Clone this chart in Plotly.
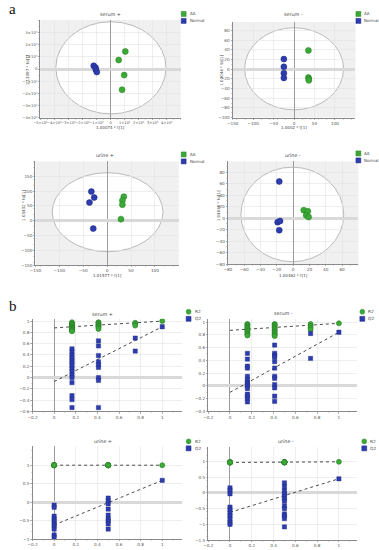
import plotly.graph_objects as go

W, H = 379, 550
def px(x): return x / W
def py(y): return 1 - y / H

GREEN = "#3aa935"
GREEN_EDGE = "#2a7f27"
BLUE = "#2d3cae"
BLUE_EDGE = "#1f2a80"

# ---------------- panel a : OPLS-DA score plots ----------------
a_titles = ["serum +", "serum -", "urine +", "urine -"]
a_xlabels = ["1.00074 * t[1]", "1.0002 * t[1]", "1.01577 * t[1]", "1.00462 * t[1]"]
a_ylabels = ["1.13397 * to[1]", "1.03044 * to[1]", "1.03432 * to[1]", "1.04046 * to[1]"]
groups = ["AA", "Normal"]

a1_aa_x = [1.05, 0.58, 0.97, 0.82]
a1_aa_y = [1.45, 0.74, -0.50, -1.70]
a1_nor_x = [-1.20, -1.07, -1.05, -0.98]
a1_nor_y = [0.27, 0.12, -0.05, -0.25]

a2_aa_x = [35, 35, 36, 36]
a2_aa_y = [39, -17, -20, -23]
a2_nor_x = [-25, -25, -25, -25]
a2_nor_y = [21, 5, -8, -18]

a3_aa_x = [35, 32, 32, 29]
a3_aa_y = [81, 68, 54, 5]
a3_nor_x = [-33, -27, -37, -29]
a3_nor_y = [98, 78, 61, -27]

a4_aa_x = [13, 18, 16, 19]
a4_aa_y = [14, 12, 5, 2]
a4_nor_x = [-17, -19, -16, -17]
a4_nor_y = [64, -7, -5, -21]

# Hotelling T2 ellipse bounds (x0, x1, y0, y1)
a1_t2 = [-3.9, 3.95, -3.7, 3.9]
a2_t2 = [-121, 121, -84, 86]
a3_t2 = [-115, 117, -105, 162]
a4_t2 = [-64, 62, -76, 89]

a1_xticks = [-5, -4, -3, -2, -1, 0, 1, 2, 3, 4]
a1_xticktext = ["−5×10⁶", "−4×10⁶", "−3×10⁶", "−2×10⁶", "−1×10⁶", "0",
                "1×10⁶", "2×10⁶", "3×10⁶", "4×10⁶"]
a1_yticks = [-4, -3, -2, -1, 0, 1, 2, 3]
a1_yticktext = ["−4×10⁶", "−3×10⁶", "−2×10⁶", "−1×10⁶", "0",
                "1×10⁶", "2×10⁶", "3×10⁶"]
a2_xticks = [-150, -100, -50, 0, 50, 100]
a2_yticks = [-100, -80, -60, -40, -20, 0, 20, 40, 60, 80]
a3_xticks = [-150, -100, -50, 0, 50, 100]
a3_yticks = [-150, -100, -50, 0, 50, 100, 150]
a4_xticks = [-80, -60, -40, -20, 0, 20, 40, 60]
a4_yticks = [-80, -60, -40, -20, 0, 20, 40, 60, 80]

# ---------------- panel b : permutation tests ----------------
b_titles = ["serum +", "serum -", "urine +", "urine -"]
b_names = ["R2", "Q2"]

b1_corr = [0.165, 0.41, 0.75]
b1_r2_cols = [[0.98, 0.96, 0.95, 0.94, 0.93, 0.91, 0.90, 0.89, 0.88, 0.87, 0.86, 0.85, 0.84, 0.83, 0.82],
              [0.98, 0.97, 0.95, 0.94, 0.92, 0.91, 0.90, 0.88, 0.86],
              [0.97, 0.95, 0.92]]
b1_q2_cols = [[0.51, 0.46, 0.40, 0.35, 0.30, 0.26, 0.21, 0.16, 0.11, 0.05, 0.0, -0.09, -0.32, -0.39, -0.53],
              [0.65, 0.56, 0.39, 0.28, 0.23, 0.18, 0.0, -0.05, -0.53],
              [0.70, 0.47]]
b1_orig = [1.0, 0.90]
b1_intercept = [0.88, -0.07]

b2_corr = [0.16, 0.41, 0.74]
b2_r2_cols = [[0.97, 0.96, 0.95, 0.93, 0.91, 0.90, 0.89, 0.87, 0.86, 0.84, 0.82, 0.80, 0.79],
              [0.97, 0.96, 0.95, 0.93, 0.91, 0.89, 0.87, 0.85, 0.83, 0.81, 0.79, 0.78],
              [0.97, 0.94, 0.91, 0.88]]
b2_q2_cols = [[0.51, 0.42, 0.31, 0.28, 0.15, 0.10, 0.06, 0.03, 0.0, -0.04, -0.13, -0.16, -0.20, -0.25],
              [0.64, 0.51, 0.48, 0.45, 0.38, 0.28, 0.15, 0.12, 0.02, -0.03, -0.16, -0.24],
              [0.82, 0.43]]
b2_orig = [0.98, 0.84]
b2_intercept = [0.87, -0.10]

b3_corr = [0.0, 0.5]
b3_r2_cols = [[1.0, 1.0, 1.0, 0.99, 1.0, 1.0, 1.0, 1.0, 1.0, 1.0],
              [1.0, 1.0, 1.0, 1.0, 0.99, 1.0, 1.0, 1.0, 1.0]]
b3_q2_cols = [[-0.08, -0.14, -0.38, -0.46, -0.51, -0.59, -0.65, -0.73, -0.89, -0.95],
              [0.11, 0.03, -0.05, -0.19, -0.35, -0.46, -0.51, -0.59, -0.73]]
b3_orig = [1.0, 0.59]
b3_intercept = [1.0, -0.62]

b4_corr = [0.0, 0.5]
b4_r2_cols = [[0.97, 0.98, 0.97, 0.96, 0.98, 0.97, 0.97, 0.98, 0.97, 0.97],
              [0.98, 0.98, 0.97, 0.98, 0.98, 0.97, 0.98, 0.98, 0.97, 0.98, 0.98, 0.97, 0.98]]
b4_q2_cols = [[0.16, 0.07, -0.03, -0.45, -0.54, -0.64, -0.73, -0.83, -0.94, -1.0],
              [0.32, 0.19, 0.06, -0.03, -0.10, -0.19, -0.26, -0.41, -0.50, -0.67, -0.73, -0.82, -1.08]]
b4_orig = [0.99, 0.45]
b4_intercept = [0.97, -0.62]

b1_xticks = [-0.2, 0, 0.2, 0.4, 0.6, 0.8, 1]
b1_yticks = [-0.6, -0.4, -0.2, 0, 0.2, 0.4, 0.6, 0.8, 1]
b2_yticks = [-0.4, -0.2, 0, 0.2, 0.4, 0.6, 0.8, 1]
b3_yticks = [-1, -0.5, 0, 0.5, 1]
b4_yticks = [-1.5, -1, -0.5, 0, 0.5, 1]

# ---------------- layout geometry (pixels) ----------------
# (left, right, top, bottom)
boxes = {
    1: (34, 177, 20, 118),
    2: (230, 355, 22, 118),
    3: (29, 175, 162, 266),
    4: (225, 358, 162, 265),
    5: (26, 178, 320, 413),
    6: (205, 357, 320, 413),
    7: (26, 178, 448, 541),
    8: (205, 357, 449, 542),
}
ranges = {
    1: ([-5.0, 5.0], [-4.0, 4.05]),
    2: ([-150, 150], [-100, 98]),
    3: ([-150, 150], [-150, 200]),
    4: ([-80, 80], [-80, 99]),
    5: ([-0.2, 1.18], [-0.6, 1.04]),
    6: ([-0.2, 1.17], [-0.4, 1.05]),
    7: ([-0.2, 1.18], [-1.0, 1.51]),
    8: ([-0.2, 1.17], [-1.5, 1.45]),
}

fig = go.Figure()
TICKFONT = dict(family="DejaVu Sans", size=4.2, color="#555")


def axname(i, kind):
    return kind if i == 1 else f"{kind}{i}"


def add_axes(i, xticks, yticks, xtext=None, ytext=None):
    l, r, t, b = boxes[i]
    xr, yr = ranges[i]
    common = dict(showline=True, linecolor="#8a8a8a", linewidth=1,
                  ticks="outside", ticklen=1.2, tickwidth=0.6, tickcolor="#8a8a8a",
                  tickfont=TICKFONT, tickangle=0, showgrid=True, gridcolor="#e3e3e3", gridwidth=0.6,
                  zeroline=True, fixedrange=True,
                  minor=dict(ticks="outside", ticklen=1.0, tickwidth=0.4,
                             tickcolor="#9a9a9a", nticks=5, showgrid=False))
    xa = dict(common, domain=[px(l), px(r)], range=xr, anchor=axname(i, "y"),
              tickmode="array", tickvals=xticks,
              zerolinecolor="#9c9c9c", zerolinewidth=1)
    if xtext:
        xa["ticktext"] = xtext
    ya = dict(common, domain=[py(b), py(t)], range=yr, anchor=axname(i, "x"),
              tickmode="array", tickvals=yticks,
              zerolinecolor="#d9d9d9", zerolinewidth=3)
    if ytext:
        ya["ticktext"] = ytext
    fig.layout[("xaxis" if i == 1 else f"xaxis{i}")] = xa
    fig.layout[("yaxis" if i == 1 else f"yaxis{i}")] = ya


def xy(i):
    return dict(xaxis=axname(i, "x"), yaxis=axname(i, "y"))


# ---- score plots
a_data = [
    (a1_aa_x, a1_aa_y, a1_nor_x, a1_nor_y, a1_t2, a1_xticks, a1_yticks, a1_xticktext, a1_yticktext),
    (a2_aa_x, a2_aa_y, a2_nor_x, a2_nor_y, a2_t2, a2_xticks, a2_yticks, None, None),
    (a3_aa_x, a3_aa_y, a3_nor_x, a3_nor_y, a3_t2, a3_xticks, a3_yticks, None, None),
    (a4_aa_x, a4_aa_y, a4_nor_x, a4_nor_y, a4_t2, a4_xticks, a4_yticks, None, None),
]
for k, (gx, gy, bx, by, t2, xt, yt, xtt, ytt) in enumerate(a_data):
    i = k + 1
    add_axes(i, xt, yt, xtt, ytt)
    if i == 1:
        fig.layout.xaxis.tickfont.size = 3.6
        fig.layout.yaxis.tickfont.size = 3.8
    xs, ys = axname(i, "x"), axname(i, "y")
    fig.add_shape(type="rect", xref=f"{xs} domain", yref=f"{ys} domain",
                  x0=0, x1=1, y0=0, y1=1, fillcolor="#f0f0f0", line_width=0, layer="below")
    fig.add_shape(type="circle", xref=xs, yref=ys, x0=t2[0], x1=t2[1], y0=t2[2], y1=t2[3],
                  fillcolor="white", line=dict(color="#b9b9b9", width=1), layer="below")
    fig.add_trace(go.Scatter(x=gx, y=gy, mode="markers", name=groups[0],
                             marker=dict(size=6, color=GREEN, line=dict(color=GREEN_EDGE, width=0.5)),
                             **xy(i)))
    fig.add_trace(go.Scatter(x=bx, y=by, mode="markers", name=groups[1],
                             marker=dict(size=6, color=BLUE, line=dict(color=BLUE_EDGE, width=0.5)),
                             **xy(i)))

# ---- permutation plots
b_data = [
    (b1_corr, b1_r2_cols, b1_q2_cols, b1_orig, b1_intercept, b1_yticks),
    (b2_corr, b2_r2_cols, b2_q2_cols, b2_orig, b2_intercept, b2_yticks),
    (b3_corr, b3_r2_cols, b3_q2_cols, b3_orig, b3_intercept, b3_yticks),
    (b4_corr, b4_r2_cols, b4_q2_cols, b4_orig, b4_intercept, b4_yticks),
]
for k, (corr, r2c, q2c, orig, icpt, yt) in enumerate(b_data):
    i = k + 5
    add_axes(i, b1_xticks, yt)
    r2x, r2y, q2x, q2y = [], [], [], []
    for c, vals in zip(corr, r2c):
        r2x += [c] * len(vals)
        r2y += vals
    for c, vals in zip(corr, q2c):
        q2x += [c] * len(vals)
        q2y += vals
    r2x.append(1.0); r2y.append(orig[0])
    q2x.append(1.0); q2y.append(orig[1])
    # regression lines: from intercept at x=0 to original model at x=1
    fig.add_trace(go.Scatter(x=[0, 1], y=[icpt[0], orig[0]], mode="lines",
                             line=dict(color="#4a4a4a", width=1, dash="dot"), **xy(i)))
    fig.add_trace(go.Scatter(x=[0, 1], y=[icpt[1], orig[1]], mode="lines",
                             line=dict(color="#4a4a4a", width=1, dash="dot"), **xy(i)))
    fig.add_trace(go.Scatter(x=r2x, y=r2y, mode="markers", name=b_names[0],
                             marker=dict(symbol="circle", size=5, color=GREEN,
                                         line=dict(color=GREEN_EDGE, width=0.6)), **xy(i)))
    fig.add_trace(go.Scatter(x=q2x, y=q2y, mode="markers", name=b_names[1],
                             marker=dict(symbol="square", size=4.3, color=BLUE,
                                         line=dict(color=BLUE_EDGE, width=0.4)), **xy(i)))

# ---------------- text ----------------
ann = []
def text(x, y, s, size=4.8, color="#444", xanchor="center", angle=0, family="DejaVu Sans"):
    ann.append(dict(x=px(x), y=py(y), xref="paper", yref="paper", text=s, showarrow=False,
                    xanchor=xanchor, yanchor="middle", textangle=angle,
                    font=dict(family=family, size=size, color=color)))

text(6, 9, "a", size=15, color="#111", family="Liberation Serif")
text(6, 307, "b", size=15, color="#111", family="Liberation Serif")

title_pos = [(105, 15), (292, 15), (100, 156), (291, 156)]
for (x, y), s in zip(title_pos, a_titles):
    text(x, y, s)
b_title_pos = [(97, 316), (282, 315), (98, 443), (284, 443)]
for (x, y), s in zip(b_title_pos, b_titles):
    text(x, y, s)

xl_pos = [(105, 128), (292, 128), (102, 277), (292, 277)]
for (x, y), s in zip(xl_pos, a_xlabels):
    text(x, y, s, size=4)
yl_pos = [(21, 70), (219, 70), (17, 206), (215, 207)]
for (x, y), s in zip(yl_pos, a_ylabels):
    text(x, y, s, size=4, angle=-90)

# legends
a_leg = [(180, 14), (358, 14), (180, 155), (358, 154)]
for (x, y) in a_leg:
    for j, (col, edge) in enumerate([(GREEN, GREEN_EDGE), (BLUE, BLUE_EDGE)]):
        yy = y + j * 7
        fig.add_shape(type="rect", xref="paper", yref="paper",
                      x0=px(x - 2.5), x1=px(x + 2.5), y0=py(yy + 2.5), y1=py(yy - 2.5),
                      fillcolor=col, line=dict(color=edge, width=0.5))
        text(x + 4, yy, groups[j], size=4.0, xanchor="left")
b_leg = [(185, 313), (362, 313), (185, 443), (364, 443)]
for (x, y) in b_leg:
    for j, (col, edge) in enumerate([(GREEN, GREEN_EDGE), (BLUE, BLUE_EDGE)]):
        yy = y + j * 7
        fig.add_shape(type="circle" if j == 0 else "rect", xref="paper", yref="paper",
                      x0=px(x - 2.5), x1=px(x + 2.5), y0=py(yy + 2.5), y1=py(yy - 2.5),
                      fillcolor=col, line=dict(color=edge, width=0.5))
        text(x + 4, yy, b_names[j], size=4.3, xanchor="left")

fig.update_layout(width=W, height=H, margin=dict(l=0, r=0, t=0, b=0),
                  paper_bgcolor="white", plot_bgcolor="white",
                  showlegend=False, hovermode=False, annotations=ann)

fig.write_html("out.html", config={"displayModeBar": False, "staticPlot": True},
               post_script="document.body.style.margin='0';document.body.style.overflow='hidden';")
